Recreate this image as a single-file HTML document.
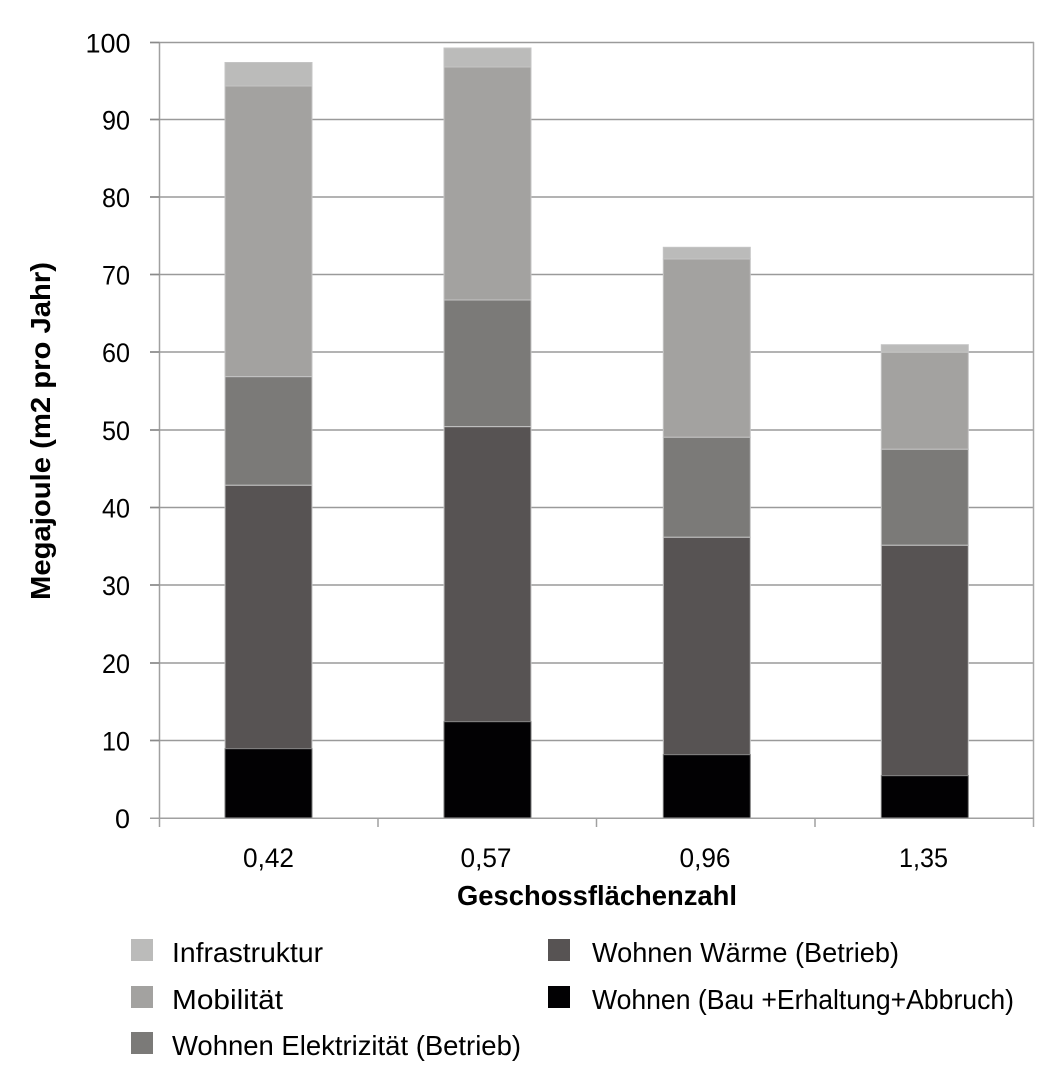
<!DOCTYPE html>
<html>
<head>
<meta charset="utf-8">
<style>
  html,body{margin:0;padding:0;background:#fff;}
  svg{display:block;}
  text{font-family:"Liberation Sans", Arial, sans-serif; fill:#000;}
</style>
</head>
<body>
<svg width="1060" height="1078" viewBox="0 0 1060 1078" xmlns="http://www.w3.org/2000/svg">
  <!-- gridlines -->
  <g stroke="#9a9a9a" stroke-width="1.5">
    <line x1="150" y1="42.5" x2="1034" y2="42.5"/>
    <line x1="150" y1="119.5" x2="1034" y2="119.5"/>
    <line x1="150" y1="197" x2="1034" y2="197"/>
    <line x1="150" y1="274.5" x2="1034" y2="274.5"/>
    <line x1="150" y1="352" x2="1034" y2="352"/>
    <line x1="150" y1="430" x2="1034" y2="430"/>
    <line x1="150" y1="507.5" x2="1034" y2="507.5"/>
    <line x1="150" y1="585" x2="1034" y2="585"/>
    <line x1="150" y1="663" x2="1034" y2="663"/>
    <line x1="150" y1="740.5" x2="1034" y2="740.5"/>
  </g>
  <!-- right border -->
  <line x1="1033.5" y1="42" x2="1033.5" y2="827" stroke="#a8a8a8" stroke-width="1.5"/>

  <!-- bars -->
  <g stroke="#c4c4c4" stroke-width="1">
    <!-- bar 1 -->
    <rect x="225" y="62.5" width="87" height="23.5" fill="#bbbbba"/>
    <rect x="225" y="86" width="87" height="290.7" fill="#a3a2a0"/>
    <rect x="225" y="376.7" width="87" height="108.6" fill="#7b7a78"/>
    <rect x="225" y="485.3" width="87" height="263.4" fill="#575353"/>
    <rect x="225" y="748.7" width="87" height="69.6" fill="#020103" stroke="#777"/>
    <!-- bar 2 -->
    <rect x="444" y="48" width="87" height="19" fill="#bbbbba"/>
    <rect x="444" y="67" width="87" height="233" fill="#a3a2a0"/>
    <rect x="444" y="300" width="87" height="126.7" fill="#7b7a78"/>
    <rect x="444" y="426.7" width="87" height="295" fill="#575353"/>
    <rect x="444" y="721.7" width="87" height="96.6" fill="#020103" stroke="#777"/>
    <!-- bar 3 -->
    <rect x="663.3" y="247.3" width="87" height="11.7" fill="#bbbbba"/>
    <rect x="663.3" y="259" width="87" height="178.3" fill="#a3a2a0"/>
    <rect x="663.3" y="437.3" width="87" height="100" fill="#7b7a78"/>
    <rect x="663.3" y="537.3" width="87" height="217.4" fill="#575353"/>
    <rect x="663.3" y="754.7" width="87" height="63.6" fill="#020103" stroke="#777"/>
    <!-- bar 4 -->
    <rect x="881.3" y="344.7" width="87" height="7.6" fill="#bbbbba"/>
    <rect x="881.3" y="352.3" width="87" height="97" fill="#a3a2a0"/>
    <rect x="881.3" y="449.3" width="87" height="96" fill="#7b7a78"/>
    <rect x="881.3" y="545.3" width="87" height="230.4" fill="#575353"/>
    <rect x="881.3" y="775.7" width="87" height="42.6" fill="#020103" stroke="#777"/>
  </g>

  <!-- axes -->
  <g stroke="#a0a0a0" stroke-width="1.5">
    <line x1="159.5" y1="42" x2="159.5" y2="827"/>
    <line x1="150" y1="818.3" x2="1034" y2="818.3"/>
    <line x1="378" y1="818" x2="378" y2="827"/>
    <line x1="596.5" y1="818" x2="596.5" y2="827"/>
    <line x1="815" y1="818" x2="815" y2="827"/>
  </g>
  <g stroke="#8a8a8a" stroke-width="1.5">
    <line x1="150" y1="42.5" x2="159.5" y2="42.5"/>
    <line x1="150" y1="119.5" x2="159.5" y2="119.5"/>
    <line x1="150" y1="197" x2="159.5" y2="197"/>
    <line x1="150" y1="274.5" x2="159.5" y2="274.5"/>
    <line x1="150" y1="352" x2="159.5" y2="352"/>
    <line x1="150" y1="430" x2="159.5" y2="430"/>
    <line x1="150" y1="507.5" x2="159.5" y2="507.5"/>
    <line x1="150" y1="585" x2="159.5" y2="585"/>
    <line x1="150" y1="663" x2="159.5" y2="663"/>
    <line x1="150" y1="740.5" x2="159.5" y2="740.5"/>
  </g>

  <!-- y tick labels -->
  <g font-size="27" text-anchor="end">
    <text x="130.5" y="52.5" textLength="45" lengthAdjust="spacingAndGlyphs">100</text>
    <text x="130" y="129.5" textLength="28" lengthAdjust="spacingAndGlyphs">90</text>
    <text x="130" y="207" textLength="28" lengthAdjust="spacingAndGlyphs">80</text>
    <text x="130" y="284.5" textLength="28" lengthAdjust="spacingAndGlyphs">70</text>
    <text x="130" y="362" textLength="28" lengthAdjust="spacingAndGlyphs">60</text>
    <text x="130" y="440" textLength="28" lengthAdjust="spacingAndGlyphs">50</text>
    <text x="130" y="517.5" textLength="28" lengthAdjust="spacingAndGlyphs">40</text>
    <text x="130" y="595" textLength="28" lengthAdjust="spacingAndGlyphs">30</text>
    <text x="130" y="673" textLength="28" lengthAdjust="spacingAndGlyphs">20</text>
    <text x="130" y="750.5" textLength="28" lengthAdjust="spacingAndGlyphs">10</text>
    <text x="130" y="828" textLength="15" lengthAdjust="spacingAndGlyphs">0</text>
  </g>

  <!-- x tick labels -->
  <g font-size="27" text-anchor="middle">
    <text x="268.5" y="867" textLength="51" lengthAdjust="spacingAndGlyphs">0,42</text>
    <text x="486" y="867" textLength="51" lengthAdjust="spacingAndGlyphs">0,57</text>
    <text x="705" y="867" textLength="51" lengthAdjust="spacingAndGlyphs">0,96</text>
    <text x="923.5" y="867" textLength="49" lengthAdjust="spacingAndGlyphs">1,35</text>
  </g>

  <!-- axis titles -->
  <text x="597" y="905" font-size="28" font-weight="bold" text-anchor="middle" textLength="280" lengthAdjust="spacingAndGlyphs">Geschossflächenzahl</text>
  <text transform="translate(50,431) rotate(-90)" x="0" y="0" font-size="28" font-weight="bold" text-anchor="middle" textLength="338" lengthAdjust="spacingAndGlyphs">Megajoule (m2 pro Jahr)</text>

  <!-- legend -->
  <rect x="131" y="939" width="22" height="22" fill="#bbbbba"/>
  <rect x="131" y="986" width="22" height="22" fill="#a3a2a0"/>
  <rect x="131" y="1032" width="22" height="22" fill="#7b7a78"/>
  <rect x="548" y="939" width="22" height="22" fill="#575353"/>
  <rect x="548" y="986" width="22" height="22" fill="#020103"/>
  <g font-size="28">
    <text x="172" y="962" textLength="151" lengthAdjust="spacingAndGlyphs">Infrastruktur</text>
    <text x="172" y="1009" textLength="111" lengthAdjust="spacingAndGlyphs">Mobilität</text>
    <text x="172" y="1055" textLength="349" lengthAdjust="spacingAndGlyphs">Wohnen Elektrizität (Betrieb)</text>
    <text x="592" y="962" textLength="307" lengthAdjust="spacingAndGlyphs">Wohnen Wärme (Betrieb)</text>
    <text x="592" y="1009" textLength="422" lengthAdjust="spacingAndGlyphs">Wohnen (Bau +Erhaltung+Abbruch)</text>
  </g>
</svg>
</body>
</html>
